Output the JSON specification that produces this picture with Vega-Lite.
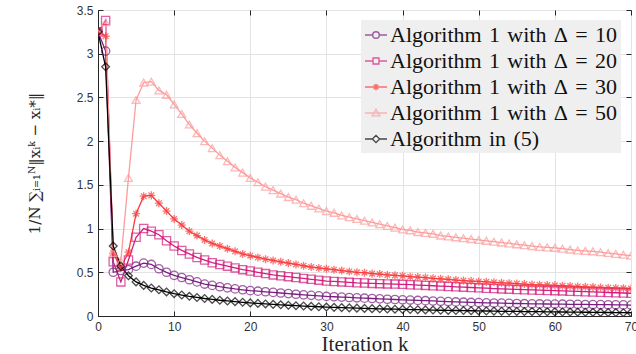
{
  "$schema": "https://vega.github.io/schema/vega-lite/v6.json",
  "autosize": {"type": "none"},
  "width": 533,
  "height": 306,
  "padding": {"left": 98, "top": 10, "right": 5, "bottom": 38},
  "background": "white",
  "config": {
    "view": {"stroke": "#262626", "strokeWidth": 1},
    "axis": {
      "labelFont": "Liberation Sans",
      "labelFontSize": 12,
      "labelColor": "#333333",
      "domainColor": "#262626",
      "tickColor": "#262626",
      "gridColor": "#e3e3e3",
      "gridWidth": 1,
      "titleFont": "Liberation Serif",
      "titleFontWeight": "normal",
      "titleColor": "#262626"
    }
  },
  "data": {
    "values": [
      {"k":0,"a":3.25,"b":3.25,"c":3.25,"d":3.25,"e":3.25},
      {"k":1,"a":3.03,"b":3.38,"c":3.2,"d":3.36,"e":2.85},
      {"k":2,"a":0.5,"b":0.62,"c":0.72,"d":0.72,"e":0.8},
      {"k":3,"a":0.52,"b":0.39,"c":0.55,"d":0.63,"e":0.57},
      {"k":4,"a":0.53,"b":0.64,"c":0.73,"d":1.58,"e":0.46},
      {"k":5,"a":0.57,"b":0.9,"c":1.17,"d":2.47,"e":0.39},
      {"k":6,"a":0.605,"b":1.0,"c":1.37,"d":2.67,"e":0.35},
      {"k":7,"a":0.59,"b":0.97,"c":1.38,"d":2.68,"e":0.32},
      {"k":8,"a":0.54,"b":0.93,"c":1.29,"d":2.58,"e":0.3},
      {"k":9,"a":0.5,"b":0.86,"c":1.2,"d":2.53,"e":0.275},
      {"k":10,"a":0.465,"b":0.8,"c":1.11,"d":2.42,"e":0.255},
      {"k":11,"a":0.44,"b":0.75,"c":1.04,"d":2.31,"e":0.24},
      {"k":12,"a":0.415,"b":0.71,"c":0.97,"d":2.19,"e":0.225},
      {"k":13,"a":0.39,"b":0.67,"c":0.92,"d":2.09,"e":0.212},
      {"k":14,"a":0.365,"b":0.64,"c":0.87,"d":2.0,"e":0.2},
      {"k":15,"a":0.35,"b":0.61,"c":0.83,"d":1.92,"e":0.19},
      {"k":16,"a":0.335,"b":0.59,"c":0.8,"d":1.84,"e":0.18},
      {"k":17,"a":0.322,"b":0.57,"c":0.77,"d":1.77,"e":0.172},
      {"k":18,"a":0.31,"b":0.55,"c":0.74,"d":1.7,"e":0.164},
      {"k":19,"a":0.3,"b":0.53,"c":0.71,"d":1.64,"e":0.157},
      {"k":20,"a":0.29,"b":0.515,"c":0.69,"d":1.58,"e":0.15},
      {"k":21,"a":0.284,"b":0.5,"c":0.67,"d":1.53,"e":0.144},
      {"k":22,"a":0.277,"b":0.485,"c":0.65,"d":1.48,"e":0.138},
      {"k":23,"a":0.27,"b":0.47,"c":0.635,"d":1.44,"e":0.133},
      {"k":24,"a":0.263,"b":0.46,"c":0.62,"d":1.4,"e":0.128},
      {"k":25,"a":0.256,"b":0.45,"c":0.605,"d":1.36,"e":0.123},
      {"k":26,"a":0.249,"b":0.44,"c":0.59,"d":1.33,"e":0.118},
      {"k":27,"a":0.242,"b":0.43,"c":0.575,"d":1.29,"e":0.114},
      {"k":28,"a":0.236,"b":0.42,"c":0.56,"d":1.26,"e":0.11},
      {"k":29,"a":0.23,"b":0.41,"c":0.55,"d":1.23,"e":0.106},
      {"k":30,"a":0.224,"b":0.4,"c":0.54,"d":1.2,"e":0.102},
      {"k":31,"a":0.22,"b":0.395,"c":0.53,"d":1.18,"e":0.099},
      {"k":32,"a":0.216,"b":0.39,"c":0.52,"d":1.15,"e":0.096},
      {"k":33,"a":0.212,"b":0.385,"c":0.51,"d":1.13,"e":0.093},
      {"k":34,"a":0.208,"b":0.38,"c":0.5,"d":1.11,"e":0.09},
      {"k":35,"a":0.204,"b":0.377,"c":0.495,"d":1.09,"e":0.087},
      {"k":36,"a":0.2,"b":0.373,"c":0.485,"d":1.07,"e":0.084},
      {"k":37,"a":0.196,"b":0.37,"c":0.48,"d":1.05,"e":0.082},
      {"k":38,"a":0.192,"b":0.367,"c":0.47,"d":1.03,"e":0.08},
      {"k":39,"a":0.189,"b":0.365,"c":0.465,"d":1.01,"e":0.078},
      {"k":40,"a":0.185,"b":0.362,"c":0.46,"d":0.99,"e":0.076},
      {"k":41,"a":0.182,"b":0.358,"c":0.45,"d":0.98,"e":0.074},
      {"k":42,"a":0.178,"b":0.354,"c":0.445,"d":0.96,"e":0.072},
      {"k":43,"a":0.175,"b":0.35,"c":0.44,"d":0.95,"e":0.07},
      {"k":44,"a":0.172,"b":0.346,"c":0.43,"d":0.94,"e":0.068},
      {"k":45,"a":0.168,"b":0.342,"c":0.425,"d":0.92,"e":0.066},
      {"k":46,"a":0.165,"b":0.338,"c":0.42,"d":0.91,"e":0.064},
      {"k":47,"a":0.161,"b":0.334,"c":0.41,"d":0.9,"e":0.063},
      {"k":48,"a":0.158,"b":0.33,"c":0.405,"d":0.89,"e":0.062},
      {"k":49,"a":0.155,"b":0.326,"c":0.4,"d":0.88,"e":0.06},
      {"k":50,"a":0.153,"b":0.322,"c":0.395,"d":0.87,"e":0.058},
      {"k":51,"a":0.151,"b":0.318,"c":0.39,"d":0.86,"e":0.057},
      {"k":52,"a":0.149,"b":0.314,"c":0.385,"d":0.85,"e":0.056},
      {"k":53,"a":0.147,"b":0.31,"c":0.38,"d":0.84,"e":0.054},
      {"k":54,"a":0.145,"b":0.307,"c":0.375,"d":0.83,"e":0.053},
      {"k":55,"a":0.143,"b":0.304,"c":0.37,"d":0.82,"e":0.052},
      {"k":56,"a":0.141,"b":0.301,"c":0.365,"d":0.81,"e":0.051},
      {"k":57,"a":0.139,"b":0.298,"c":0.36,"d":0.8,"e":0.05},
      {"k":58,"a":0.138,"b":0.295,"c":0.357,"d":0.79,"e":0.049},
      {"k":59,"a":0.137,"b":0.292,"c":0.353,"d":0.785,"e":0.048},
      {"k":60,"a":0.136,"b":0.29,"c":0.35,"d":0.78,"e":0.047},
      {"k":61,"a":0.135,"b":0.287,"c":0.346,"d":0.77,"e":0.046},
      {"k":62,"a":0.134,"b":0.284,"c":0.342,"d":0.76,"e":0.045},
      {"k":63,"a":0.133,"b":0.281,"c":0.338,"d":0.75,"e":0.044},
      {"k":64,"a":0.132,"b":0.278,"c":0.334,"d":0.745,"e":0.043},
      {"k":65,"a":0.131,"b":0.275,"c":0.33,"d":0.74,"e":0.042},
      {"k":66,"a":0.13,"b":0.272,"c":0.327,"d":0.73,"e":0.041},
      {"k":67,"a":0.129,"b":0.269,"c":0.324,"d":0.72,"e":0.04},
      {"k":68,"a":0.128,"b":0.266,"c":0.321,"d":0.71,"e":0.039},
      {"k":69,"a":0.127,"b":0.263,"c":0.318,"d":0.7,"e":0.038},
      {"k":70,"a":0.125,"b":0.26,"c":0.315,"d":0.69,"e":0.037}
    ]
  },
  "transform": [{"fold": ["a", "b", "c", "d", "e"], "as": ["s", "v"]}],
  "layer": [
    {
      "mark": {"type": "line", "clip": true},
      "encoding": {
        "x": {"field": "k", "type": "quantitative", "scale": {"domain": [0, 70], "nice": false},
              "axis": {"values": [0,10,20,30,40,50,60,70], "tickSize": -5, "labelPadding": 10, "grid": true,
                       "title": "Iteration k", "titleFontSize": 21, "titleBaseline": "alphabetic", "titlePadding": 18, "labelFlush": false}},
        "y": {"field": "v", "type": "quantitative", "scale": {"domain": [0, 3.5], "nice": false},
              "axis": {"values": [0,0.5,1,1.5,2,2.5,3,3.5], "format": "~g", "tickSize": -5, "labelPadding": 10, "grid": true,
                       "title": "1/N ∑ᵢ₌₁ᴺ‖xᵢᵏ − xᵢ*‖", "titleFont": "DejaVu Serif", "titleFontSize": 15, "titlePadding": 34, "labelFlush": false}},
        "color": {"field": "s", "type": "nominal",
                  "scale": {"domain": ["a","b","c","d","e"], "range": ["#7a1f80","#d41c7c","#fb3a3a","#fd9c9c","#000000"]},
                  "legend": null},
        "strokeWidth": {"field": "s", "type": "nominal", "scale": {"domain": ["a","b","c","d","e"], "range": [1.3,1.3,1.3,1.3,2.6]}, "legend": null}
      }
    },
    {
      "mark": {"type": "point", "filled": false, "clip": true},
      "encoding": {
        "x": {"field": "k", "type": "quantitative", "axis": null},
        "y": {"field": "v", "type": "quantitative", "axis": null},
        "color": {"field": "s", "type": "nominal",
                  "scale": {"domain": ["a","b","c","d","e"], "range": ["#7a1f80","#d41c7c","#fb3a3a","#fd9c9c","#000000"]},
                  "legend": null},
        "shape": {"field": "s", "type": "nominal", "legend": null,
                  "scale": {"domain": ["a","b","c","d","e"], "range": ["circle","square","M0,-1L0,1M-1,0L1,0M-0.7,-0.7L0.7,0.7M-0.7,0.7L0.7,-0.7","triangle-up","diamond"]}},
        "size": {"field": "s", "type": "nominal", "scale": {"domain": ["a","b","c","d","e"], "range": [70,60,60,80,110]}, "legend": null},
        "strokeWidth": {"field": "s", "type": "nominal", "scale": {"domain": ["a","b","c","d","e"], "range": [1.3,1.3,1.6,1.3,2.3]}, "legend": null}
      }
    },
    {
      "transform": [{"filter": "datum.k < 0"}],
      "mark": {"type": "point", "filled": false, "size": 484, "strokeWidth": 1.4},
      "encoding": {
        "x": {"field": "k", "type": "quantitative", "axis": null},
        "y": {"field": "v", "type": "quantitative", "axis": null},
        "color": {"field": "s", "type": "nominal",
                  "scale": {"domain": ["a","b","c","d","e"], "range": ["#7a1f80","#d41c7c","#fb3a3a","#fd9c9c","#000000"]},
                  "legend": {
                    "title": null, "orient": "top-right", "offset": 10,
                    "fillColor": "#efefef", "padding": 3,
                    "labelFont": "Liberation Serif", "labelFontSize": 22, "labelColor": "#111111", "labelLimit": 400,
                    "labelOffset": 2, "rowPadding": 3, "symbolSize": 484, "symbolStrokeWidth": 1.4,
                    "labelExpr": "{'a':'Algorithm\u20041\u2004with\u2004Δ\u2004=\u200410','b':'Algorithm\u20041\u2004with\u2004Δ\u2004=\u200420','c':'Algorithm\u20041\u2004with\u2004Δ\u2004=\u200430','d':'Algorithm\u20041\u2004with\u2004Δ\u2004=\u200450','e':'Algorithm\u2004in\u2004(5)'}[datum.value]"
                  }},
        "shape": {"field": "s", "type": "nominal",
                  "scale": {"domain": ["a","b","c","d","e"], "range": [
                    "M-1,0L-0.3,0M0.3,0L1,0M-0.3,0A0.3,0.3 0 1,0 0.3,0A0.3,0.3 0 1,0 -0.3,0",
                    "M-1,0L-0.27,0M0.27,0L1,0M-0.27,-0.27H0.27V0.27H-0.27Z",
                    "M-1,0L1,0M0,-0.3L0,0.3M-0.21,-0.21L0.21,0.21M-0.21,0.21L0.21,-0.21",
                    "M-1,0L1,0M0,-0.34L0.34,0.26L-0.34,0.26Z",
                    "M-1,0L-0.33,0M0.33,0L1,0M0,-0.33L0.33,0L0,0.33L-0.33,0Z"]}},
        "strokeWidth": {"field": "s", "type": "nominal",
                  "scale": {"domain": ["a","b","c","d","e"], "range": [1.4,1.4,1.4,1.4,2.2]}}
      }
    },
    {
      "mark": {"type": "point", "opacity": 0},
      "encoding": {
        "x": {"field": "k", "type": "quantitative",
              "axis": {"orient": "top", "values": [0,10,20,30,40,50,60,70], "labels": false, "tickSize": -5, "grid": false, "title": null, "domain": false}},
        "y": {"field": "v", "type": "quantitative",
              "axis": {"orient": "right", "values": [0,0.5,1,1.5,2,2.5,3,3.5], "labels": false, "tickSize": -5, "grid": false, "title": null, "domain": false}}
      }
    }
  ],
  "resolve": {"scale": {"color": "independent", "shape": "independent", "strokeWidth": "independent", "size": "independent"}, "axis": {"x": "independent", "y": "independent"}}
}
